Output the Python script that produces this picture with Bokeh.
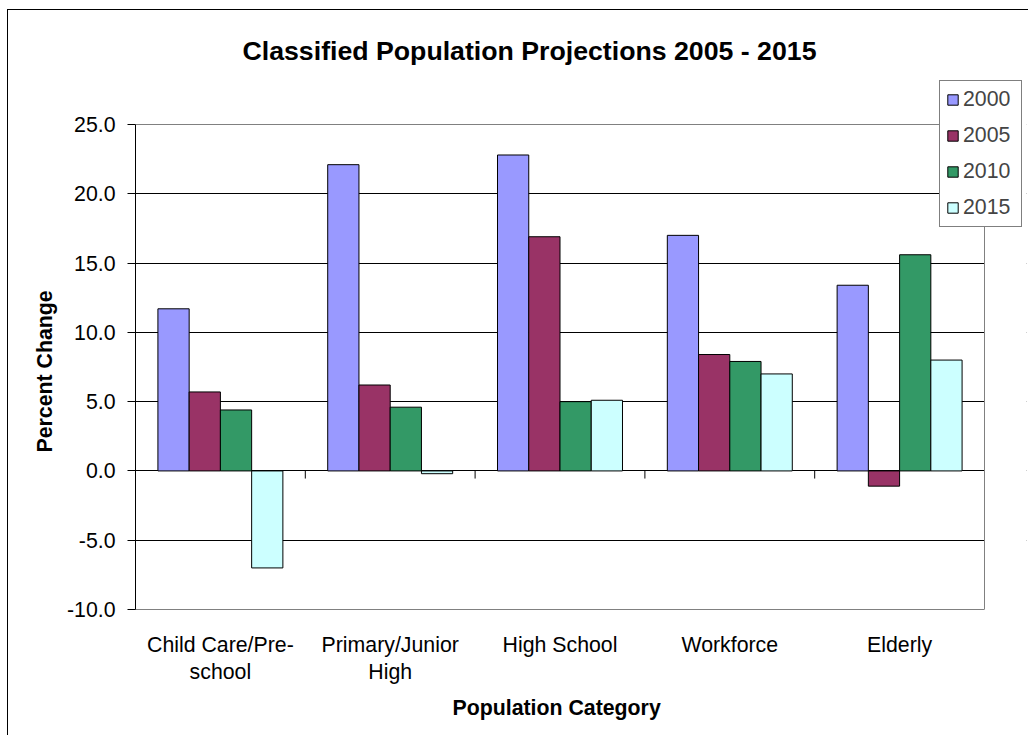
from bokeh.plotting import figure
from bokeh.models import (ColumnDataSource, Legend, LegendItem, Title, Grid, LinearAxis,
                          NumeralTickFormatter, FixedTicker, Range1d, BoxAnnotation)
from bokeh.transform import dodge
from bokeh.embed import file_html
from bokeh.resources import INLINE

categories = ["Child Care/Pre-school", "Primary/Junior High", "High School", "Workforce", "Elderly"]
label_line1 = ["Child Care/Pre-", "Primary/Junior", "High School", "Workforce", "Elderly"]
label_line2 = ["school", "High", "", "", ""]
years = ["2000", "2005", "2010", "2015"]
y2000 = [11.7, 22.1, 22.8, 17.0, 13.4]
y2005 = [5.7, 6.2, 16.9, 8.4, -1.1]
y2010 = [4.4, 4.6, 5.0, 7.9, 15.6]
y2015 = [-7.0, -0.2, 5.1, 7.0, 8.0]
y_ticks = [-10, -5, 0, 5, 10, 15, 20, 25]
colors = ["#9999FF", "#993366", "#339966", "#CCFFFF"]

FONT = "Liberation Sans"
n = len(categories)
xc = [i + 0.5 for i in range(n)]
y_min, y_max = y_ticks[0], y_ticks[-1]

# plot-area geometry (pixels)
PLOT_W, PLOT_H = 849, 485
FRAME_W, FRAME_H = 891, 533
x_end = FRAME_W * n / PLOT_W
y_end = y_min + FRAME_H * (y_max - y_min) / PLOT_H

source = ColumnDataSource(dict(x=xc, cat=categories, y2000=y2000, y2005=y2005, y2010=y2010, y2015=y2015))

p = figure(x_range=Range1d(0, x_end), y_range=Range1d(y_min, y_end),
           frame_width=FRAME_W, frame_height=FRAME_H,
           output_backend="svg", toolbar_location=None,
           min_border_left=127, min_border_top=66, min_border_right=2, min_border_bottom=126)
p.styles = {"margin-left": "7px", "margin-top": "9px",
            "border-top": "1px solid black", "border-left": "1px solid black"}
p.background_fill_color = "white"
p.border_fill_color = "white"
p.outline_line_color = None

# grid lines
p.xgrid.visible = False
p.ygrid.ticker = FixedTicker(ticks=y_ticks[1:-1])
p.ygrid.grid_line_color = "black"
p.ygrid.grid_line_width = 1
p.add_layout(Grid(dimension=1, ticker=FixedTicker(ticks=[y_max]), grid_line_color="#808080"))
# blank out the area right of the plot area
p.add_layout(BoxAnnotation(left=n, fill_color="white", fill_alpha=1, line_color=None, level="underlay"))

bw = 0.184
offsets = [-1.5 * bw, -0.5 * bw, 0.5 * bw, 1.5 * bw]
renderers = []
for yr, col, off in zip(years, colors, offsets):
    r = p.vbar(x=dodge("x", off), top="y" + yr, bottom=0, width=bw,
               source=source, fill_color=col, line_color="black", line_width=1)
    renderers.append(r)

# category boundary ticks on the zero line
bounds = list(range(1, n))
p.segment(x0=bounds, x1=bounds, y0=[0] * len(bounds), y1=[-0.55] * len(bounds),
          line_color="black", line_width=1)

# y axis
yax = p.yaxis[0]
yax.bounds = (y_min, y_max)
yax.ticker = FixedTicker(ticks=y_ticks)
yax.formatter = NumeralTickFormatter(format="0.0")
yax.major_label_text_font = FONT
yax.major_label_text_font_size = "21.3px"
yax.major_label_text_color = "black"
yax.major_label_standoff = 12
yax.major_tick_out = 8
yax.major_tick_in = 0
yax.minor_tick_line_color = None
yax.axis_line_color = "black"
yax.major_tick_line_color = "black"

# y axis title (centred on the plot area, not the frame)
p.add_layout(Title(text="Percent Change", align="left", offset=157,
                   text_font=FONT, text_font_style="bold", text_font_size="21.3px",
                   text_color="black", standoff=13), "left")

# right border of the plot area
rax = LinearAxis(fixed_location=n, bounds=(y_min, y_max), ticker=FixedTicker(ticks=[]),
                 axis_line_color="#808080", major_tick_line_color=None, minor_tick_line_color=None,
                 major_label_text_font_size="0px")
p.add_layout(rax, "right")

# x axis (bottom border + first line of category labels)
xax = p.xaxis[0]
xax.bounds = (0, n)
xax.ticker = FixedTicker(ticks=xc)
xax.major_label_overrides = {x: t for x, t in zip(xc, label_line1)}
xax.axis_line_color = "#808080"
xax.major_tick_line_color = None
xax.major_tick_out = 0
xax.major_tick_in = 0
xax.minor_tick_line_color = None
xax.major_label_text_font = FONT
xax.major_label_text_font_size = "21.3px"
xax.major_label_text_color = "black"
xax.major_label_standoff = 23

# second line of category labels
xax2 = LinearAxis(ticker=FixedTicker(ticks=xc),
                  major_label_overrides={x: t for x, t in zip(xc, label_line2)},
                  axis_line_color=None, major_tick_line_color=None, minor_tick_line_color=None,
                  major_tick_out=0, major_tick_in=0,
                  major_label_text_font=FONT, major_label_text_font_size="21.3px",
                  major_label_text_color="black", major_label_standoff=0)
p.add_layout(xax2, "below")

# x axis title
p.add_layout(Title(text="Population Category", align="left", offset=317,
                   text_font=FONT, text_font_style="bold", text_font_size="21.3px",
                   text_color="black", standoff=15), "below")

# chart title
p.title.text = "Classified Population Projections 2005 - 2015"
p.title.align = "left"
p.title.offset = 107
p.title.text_font = FONT
p.title.text_font_style = "bold"
p.title.text_font_size = "26.7px"
p.title.text_color = "black"
p.title.standoff = 22

legend = Legend(items=[LegendItem(label=yr, renderers=[r]) for yr, r in zip(years, renderers)],
                location=(804, 382), orientation="vertical")
legend.label_text_font = FONT
legend.label_text_font_size = "21.3px"
legend.glyph_width = 13
legend.glyph_height = 13
legend.label_standoff = 4
legend.label_height = 23
legend.label_width = 52
legend.spacing = 11
legend.padding = 6
legend.margin = 0
legend.border_line_color = "black"
legend.border_line_width = 1
legend.background_fill_color = "white"
legend.background_fill_alpha = 1
p.add_layout(legend, "center")

open("out.html", "w").write(file_html(p, INLINE))
